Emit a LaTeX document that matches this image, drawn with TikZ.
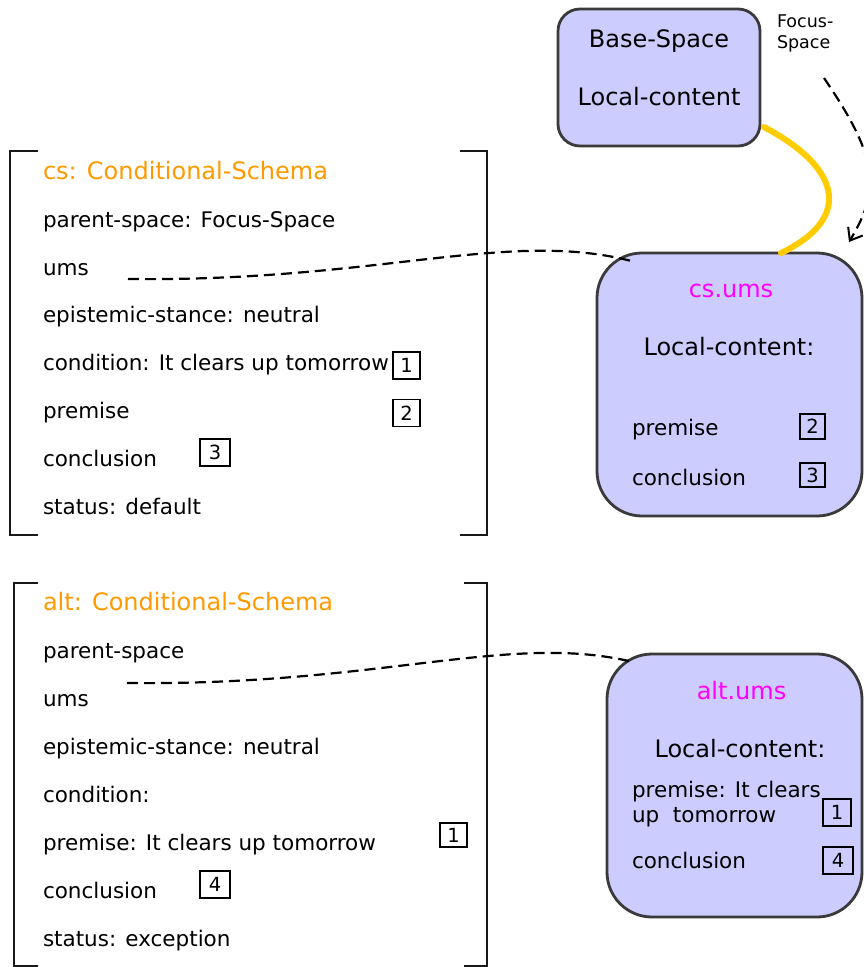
\documentclass[tikz,border=0pt]{standalone}
\usepackage{fontspec}
\setmainfont{DejaVu Sans}
\usetikzlibrary{arrows.meta}
\definecolor{spacefill}{HTML}{CCCCFF}
\definecolor{spaceline}{HTML}{3A3A3A}
\definecolor{titleorange}{HTML}{FF9900}
\definecolor{umsmagenta}{HTML}{FF00FF}
\definecolor{linkgold}{HTML}{FFCC00}
\begin{document}
\begin{tikzpicture}[x=1pt,y=-1pt,
  every node/.style={inner sep=0pt,outer sep=0pt},
  body/.style={font=\fontsize{21.5}{25}\selectfont,anchor=base west},
  schematitle/.style={font=\fontsize{24}{28}\selectfont,anchor=base west,text=titleorange},
  boxhead/.style={font=\fontsize{24}{28}\selectfont,anchor=base},
  smalltxt/.style={font=\fontsize{17.5}{21}\selectfont,anchor=base west},
  spacebox/.style={draw=spaceline,fill=spacefill,line width=2.8pt},
  numbox/.style={draw=black,line width=1.8pt,minimum height=27pt,minimum width=27pt,font=\fontsize{19.5}{22}\selectfont},
  bracket/.style={draw=black!90,line width=2.6pt},
  link/.style={draw=black,line width=2.2pt,dash pattern=on 11pt off 6pt},
  goldlink/.style={draw=linkgold,line width=6pt,line cap=round},
]
\useasboundingbox (0,0) rectangle (864,967);

% ---------- spaces (rounded boxes) ----------
\node[spacebox,rounded corners=22pt,minimum width=202pt,minimum height=137pt] (base) at (659,77.5) {};
\node[spacebox,rounded corners=45pt,minimum width=265pt,minimum height=263pt] (csums) at (729.5,384.5) {};
\node[spacebox,rounded corners=45pt,minimum width=255pt,minimum height=263pt] (altums) at (734.5,785.5) {};

\node[boxhead] (baseT) at (659,47) {Base-Space};
\node[boxhead] (baseL) at (659,105) {Local-content};
\node[smalltxt] (focusA) at (777,27) {Focus-};
\node[smalltxt] (focusB) at (777,48) {Space};

\node[boxhead,text=umsmagenta] (csumsT) at (731,297) {cs.ums};
\node[boxhead] (csumsL) at (729,355) {Local-content:};
\node[body] (csumsP) at (632,435) {premise};
\node[body] (csumsC) at (632,485) {conclusion};
\node[numbox,minimum width=25pt,minimum height=25pt] (csumsN2) at (812.5,426.5) {2};
\node[numbox,minimum width=25pt,minimum height=24pt] (csumsN3) at (812.5,475) {3};

\node[boxhead,text=umsmagenta] (altumsT) at (741.5,699) {alt.ums};
\node[boxhead] (altumsL) at (740,757) {Local-content:};
\node[body] (altumsP) at (632,797) {premise: It clears};
\node[body] (altumsP2) at (632,822) {up\ \ tomorrow};
\node[body] (altumsC) at (632,868) {conclusion};
\node[numbox,minimum width=28pt] (altumsN1) at (837,812.5) {1};
\node[numbox,minimum width=30pt] (altumsN4) at (838,860.5) {4};

% ---------- upper schema ----------
\draw[bracket] (38,151) -- (10,151) -- (10,535) -- (38,535);
\draw[bracket] (460,151) -- (487,151) -- (487,535) -- (460,535);
\node[schematitle] (csT) at (43,179.5) {cs: Conditional-Schema};
\node[body] (csA) at (43,227.3) {parent-space: Focus-Space};
\node[body] (csB) at (43,275.1) {ums};
\node[body] (csC) at (43,322.9) {epistemic-stance: neutral};
\node[body] (csD) at (43,370.7) {condition: It clears up tomorrow};
\node[body] (csE) at (43,418.5) {premise};
\node[body] (csF) at (43,466.3) {conclusion};
\node[body] (csG) at (43,514.1) {status: default};
\node[numbox] (csN1) at (406.5,365.5) {1};
\node[numbox] (csN2) at (406.5,413) {2};
\node[numbox,minimum width=30pt] (csN3) at (215,452.5) {3};

% ---------- lower schema ----------
\draw[bracket] (38,583) -- (14,583) -- (14,966) -- (38,966);
\draw[bracket] (464,583) -- (487,583) -- (487,966) -- (464,966);
\node[schematitle] (altT) at (43,610.5) {alt: Conditional-Schema};
\node[body] (altA) at (43,658.5) {parent-space};
\node[body] (altB) at (43,706.5) {ums};
\node[body] (altC) at (43,754.5) {epistemic-stance: neutral};
\node[body] (altD) at (43,802.5) {condition:};
\node[body] (altE) at (43,850.5) {premise: It clears up tomorrow};
\node[body] (altF) at (43,898.5) {conclusion};
\node[body] (altG) at (43,946.5) {status: exception};
\node[numbox,minimum height=24pt] (altN1) at (453.5,835) {1};
\node[numbox,minimum width=30pt] (altN4) at (215,884.5) {4};

% ---------- connectors ----------
\coordinate (csumsOut) at (128,279);
\coordinate (csumsIn) at (635,262);
\coordinate (altumsOut) at (127,683);
\coordinate (altumsIn) at (633,662);
\coordinate (baseOut) at (764,127);
\coordinate (csumsTop) at (781,253);
\coordinate (focusFrom) at (824,78);
\coordinate (focusTo) at (849,242);

\draw[link] (csumsOut) .. controls (380,282) and (510,228) .. (csumsIn);
\draw[link] (altumsOut) .. controls (380,686) and (510,632) .. (altumsIn);
\draw[goldlink] (baseOut) .. controls (845,170) and (850,220) .. (csumsTop);
\draw[link,-{Straight Barb[length=11pt,width=17pt,line width=2pt]}] (focusFrom) .. controls (880,160) and (880,190) .. (focusTo);
\end{tikzpicture}
\end{document}
